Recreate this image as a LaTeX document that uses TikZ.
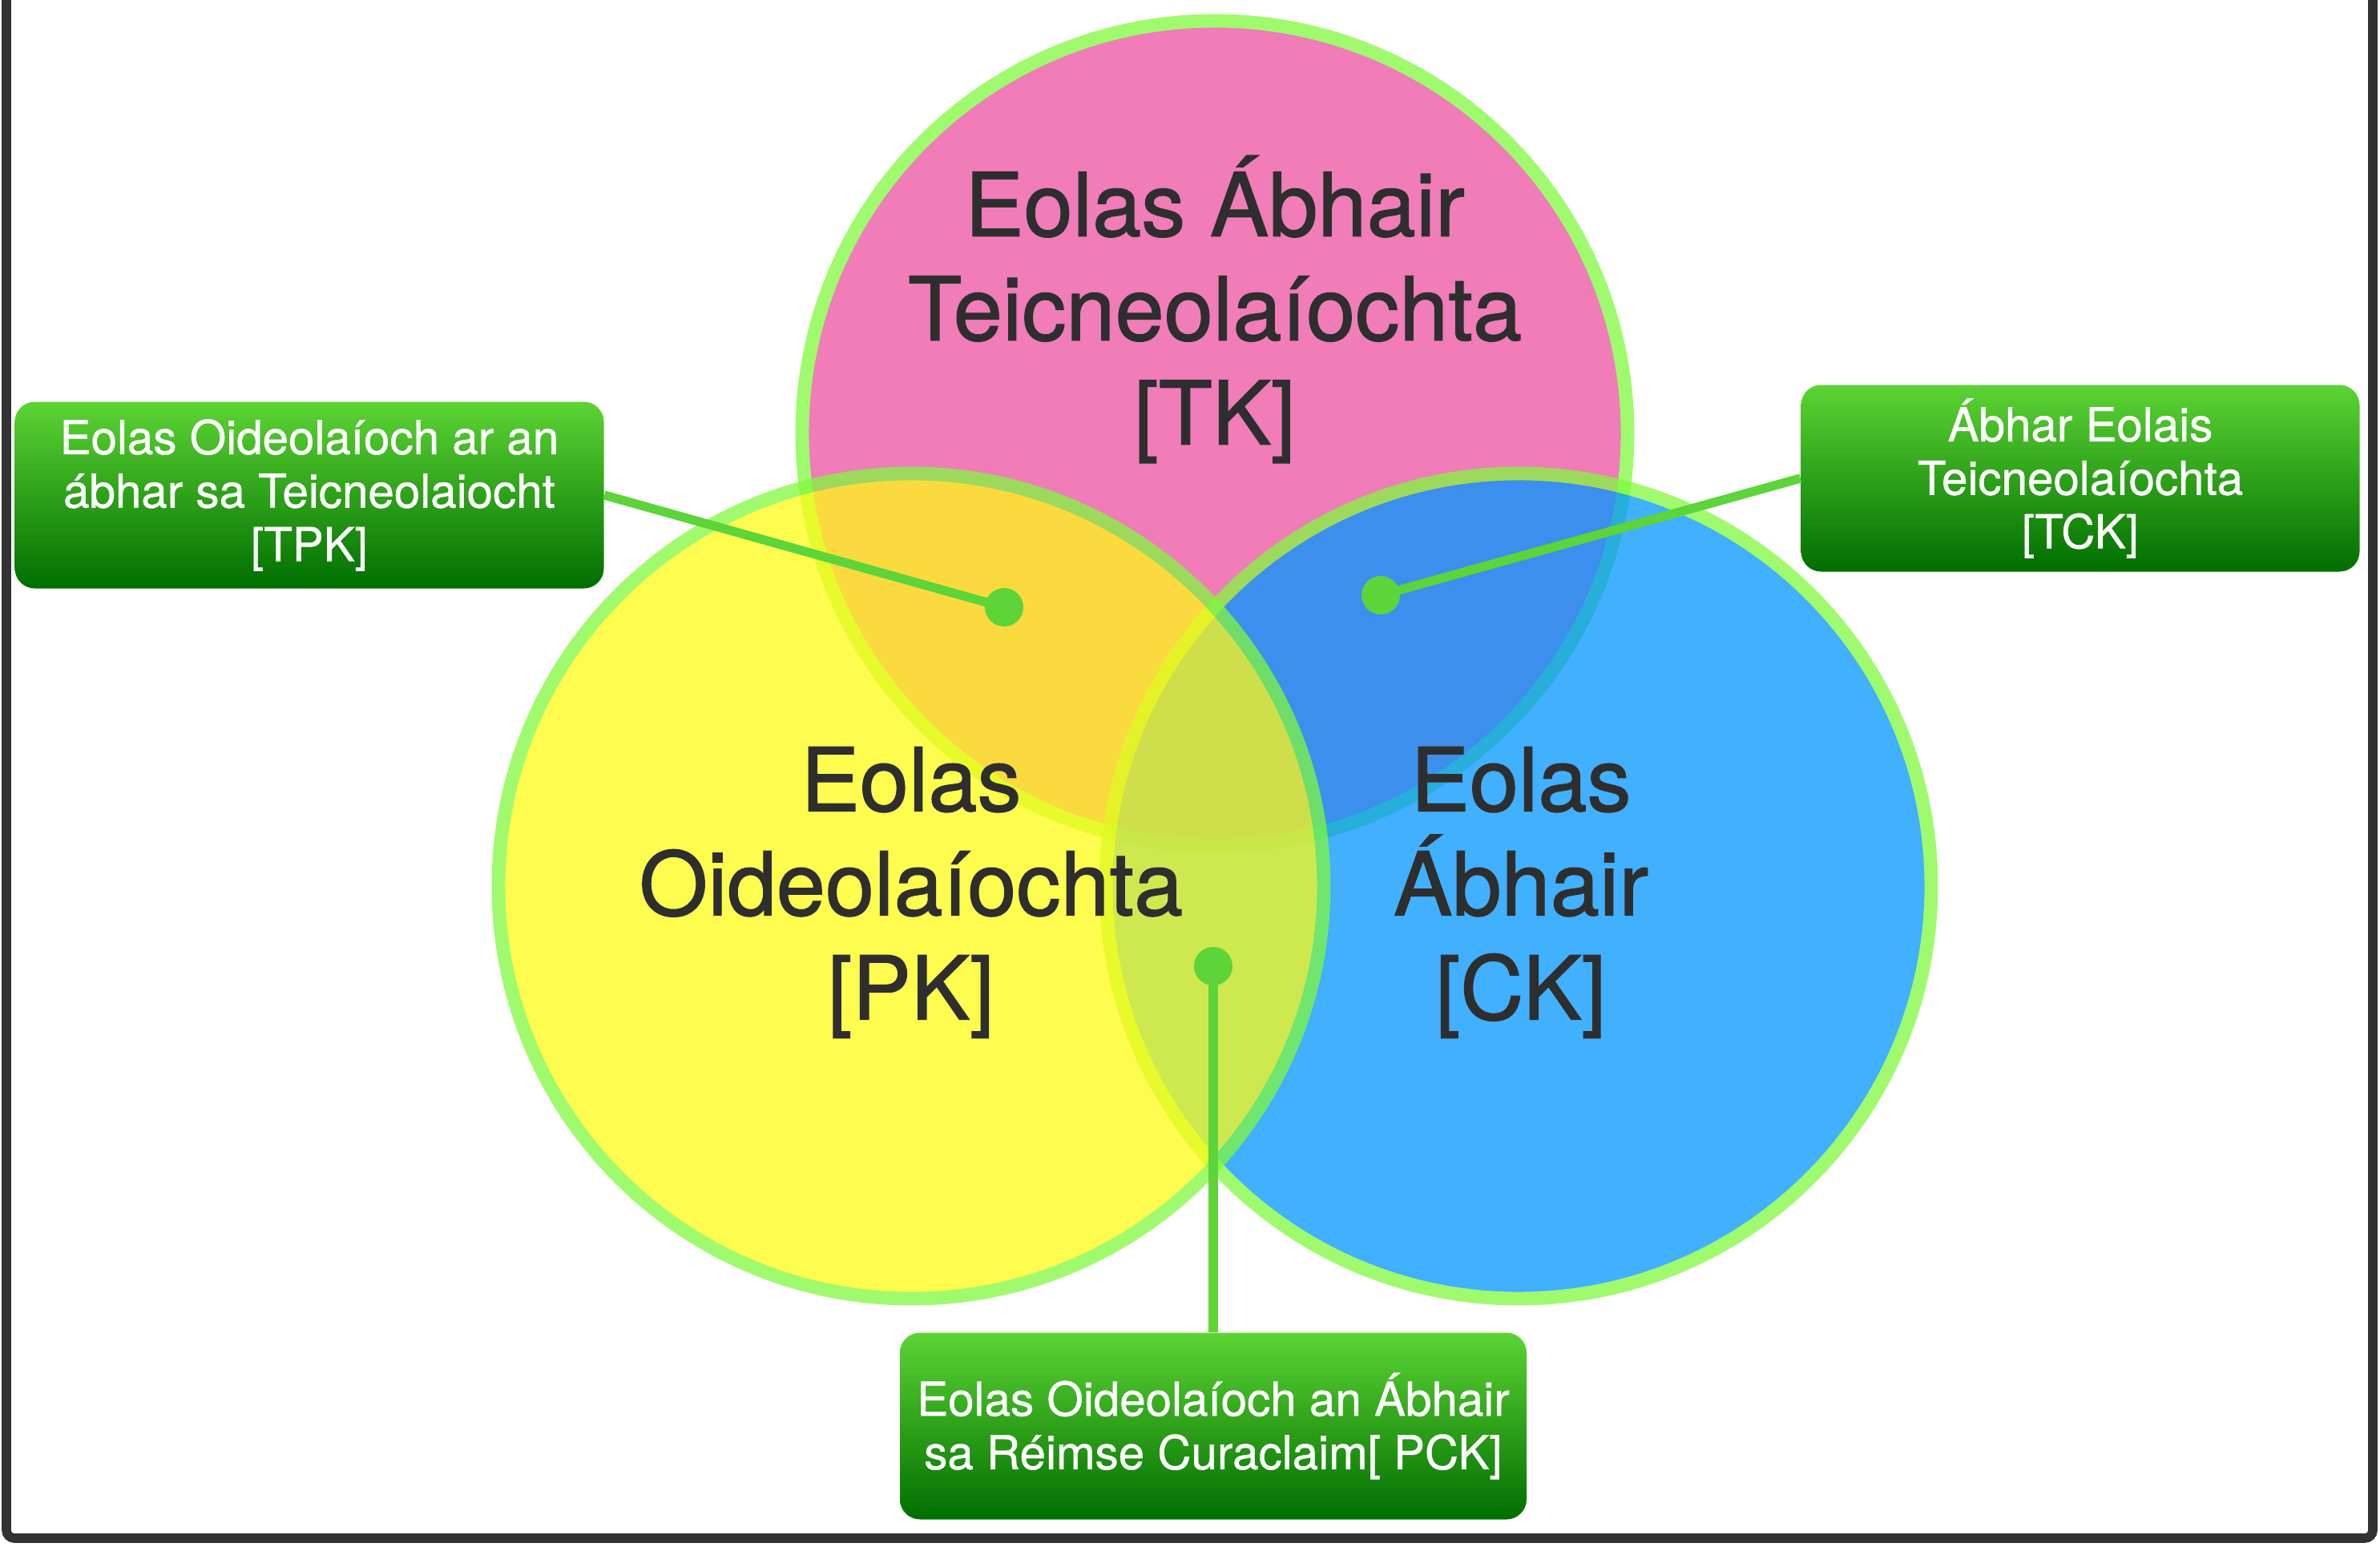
\documentclass[tikz,border=0pt]{standalone}
\usepackage{fontspec}
\setmainfont{TeX Gyre Heros}
\newfontfamily\titlefont[FakeBold=1.2]{TeX Gyre Heros}
\newfontfamily\tagfont[FakeBold=0.8]{TeX Gyre Heros}
\usepackage{tikz}
\usetikzlibrary{calc}
\definecolor{pinkfill}{RGB}{235,80,160}
\definecolor{yellowfill}{RGB}{255,251,22}
\definecolor{bluefill}{RGB}{0,150,255}
\definecolor{ringgreen}{RGB}{128,248,62}
\definecolor{tagtop}{RGB}{92,212,52}
\definecolor{tagbottom}{RGB}{0,110,0}
\definecolor{linkgreen}{RGB}{92,212,58}
\definecolor{textgray}{RGB}{46,46,46}
\definecolor{framegray}{RGB}{50,50,50}
\tikzset{
  ring/.style={draw=ringgreen, line width=4.8pt},
  title/.style={text=textgray, align=center, font=\titlefont\fontsize{31.3}{37}\selectfont},
  tag/.style={rounded corners=0.25cm, top color=tagtop, bottom color=tagbottom,
    text=white, align=center, minimum height=2.33cm, inner sep=0pt,
    font=\tagfont\fontsize{16.6}{19}\selectfont},
  link/.style={draw=linkgreen, line width=3.2pt},
  dot/.style={circle, fill=linkgreen, inner sep=0pt, minimum size=0.48cm},
  frame/.style={draw=framegray, line width=3.3pt, rounded corners=0.1cm}
}
\newcommand{\ring}[4]{ \begin{scope}[transparency group, opacity=0.75]
  \draw[ring, fill=#4, opacity=1] ( #1 , #2 ) circle ( #3 ); \end{scope}}

\begin{document}
\begin{tikzpicture}
        \useasboundingbox (0,0) rectangle (29.70,-19.31);
        % circles: pink, blue, then yellow on top
        \ring{15.16}{-5.41}{5.15}{pinkfill}
        \ring{18.95}{-11.06}{5.15}{bluefill}
        \ring{11.37}{-11.06}{5.15}{yellowfill}

        % frame, open at the top
        \draw[frame] (0.08,0.5) -- (0.08,-19.20) -- (29.61,-19.20) -- (29.61,0.5);

        % titles
        \node[title] (tk) at (15.16,-3.86) {Eolas Ábhair\\Teicneolaíochta\\{[TK]}};
        \node[title] (pk) at (11.37,-11.14) {Eolas\\Oideolaíochta\\{[PK]}};
        \node[title] (ck) at (18.98,-11.14) {Eolas\\Ábhair\\{[CK]}};

        % tags
        \node[tag, minimum width=7.35cm] (tpk) at (3.86,-6.18)
            {Eolas Oideolaíoch ar an\\ábhar sa Teicneolaiocht\\{[TPK]}};
        \node[tag, minimum width=6.97cm] (tck) at (25.96,-5.97)
            {Ábhar Eolais\\Teicneolaíochta\\{[TCK]}};
        \node[tag, minimum width=7.82cm] (pck) at (15.14,-17.80)
            {Eolas Oideolaíoch an Ábhair\\sa Réimse Curaclaim[ PCK]};

        % dots and links
        \node[dot] (tpkdot) at (12.53,-7.58) {};
        \node[dot] (tckdot) at (17.23,-7.43) {};
        \node[dot] (pckdot) at (15.14,-12.06) {};
        \draw[link] (tpk.east) -- (tpkdot.center);
        \draw[link] (tck.west) -- (tckdot.center);
        \draw[link] (pck.north) -- (pckdot.center);
    \end{tikzpicture}
\end{document}
